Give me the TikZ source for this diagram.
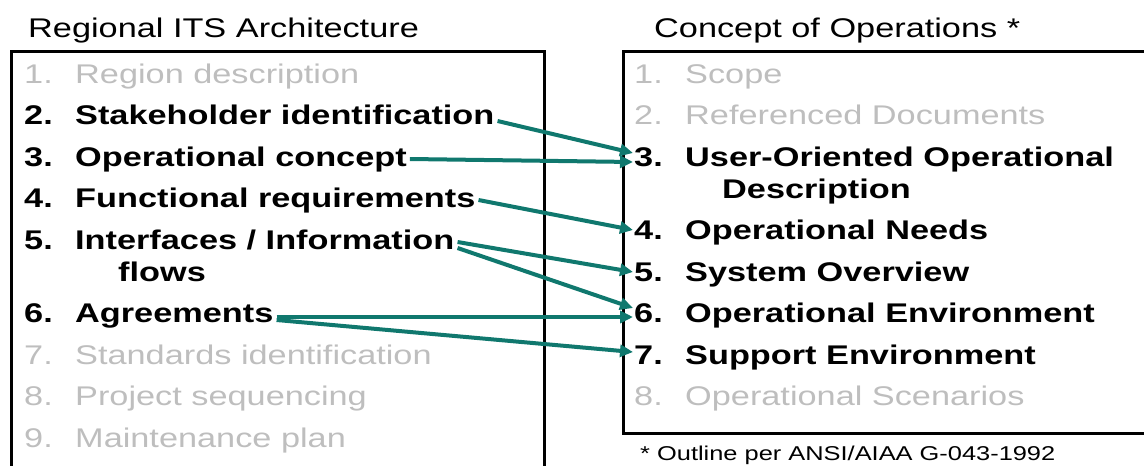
\documentclass[tikz,border=0pt]{standalone}
\usepackage{fontspec}
\setmainfont{Liberation Sans}[FakeStretch=1.27]
\usetikzlibrary{arrows.meta}
\definecolor{arrowteal}{RGB}{16,120,110}
\definecolor{dimgray}{RGB}{190,190,190}
\newcommand{\itemnum}[1]{\makebox[51pt][l]{#1}}
\tikzset{
  item/.style={anchor=base west, inner sep=0pt, font=\fontsize{27}{32}\selectfont},
  dim/.style={item, text=dimgray},
  main/.style={item, font=\fontsize{27}{32}\selectfont\bfseries, text=black},
  heading/.style={anchor=base west, inner sep=0pt, font=\fontsize{27}{32}\selectfont, text=black},
  note/.style={anchor=base west, inner sep=0pt, font=\fontsize{20}{24}\selectfont, text=black},
  frame/.style={line width=3pt, black},
  link/.style={line width=4pt, arrowteal, -{Triangle[length=13pt,width=12pt]}},
}
\begin{document}
\begin{tikzpicture}[x=1pt,y=-1pt]
\useasboundingbox (0,0) rectangle (1144,466);
% frames
\draw[frame] (11,470) -- (11,51) -- (544,51) -- (544,470);
\draw[frame] (1150,51) -- (623,51) -- (623,433) -- (1150,433);
% headings
\node[heading] (tl) at (28,37) {Regional ITS Architecture};
\node[heading] (tr) at (654,37) {Concept of Operations *};
% left list
\node[dim]  (l1)  at (24,83)    {\itemnum{1.}Region description};
\node[main] (l2)  at (24,124.5) {\itemnum{2.}Stakeholder identification};
\node[main] (l3)  at (24,166)   {\itemnum{3.}Operational concept};
\node[main] (l4)  at (24,207.5) {\itemnum{4.}Functional requirements};
\node[main] (l5)  at (24,249)   {\itemnum{5.}Interfaces / Information};
\node[main] (l5b) at (118,281)  {flows};
\node[main] (l6)  at (24,322.5) {\itemnum{6.}Agreements};
\node[dim]  (l7)  at (24,364)   {\itemnum{7.}Standards identification};
\node[dim]  (l8)  at (24,405.5) {\itemnum{8.}Project sequencing};
\node[dim]  (l9)  at (24,447)   {\itemnum{9.}Maintenance plan};
% right list
\node[dim]  (r1)  at (634,83)    {\itemnum{1.}Scope};
\node[dim]  (r2)  at (634,124.5) {\itemnum{2.}Referenced Documents};
\node[main] (r3)  at (634,166)   {\itemnum{3.}User-Oriented Operational};
\node[main] (r3b) at (722,198)   {Description};
\node[main] (r4)  at (634,239.5) {\itemnum{4.}Operational Needs};
\node[main] (r5)  at (634,281)   {\itemnum{5.}System Overview};
\node[main] (r6)  at (634,322.5) {\itemnum{6.}Operational Environment};
\node[main] (r7)  at (634,364)   {\itemnum{7.}Support Environment};
\node[dim]  (r8)  at (634,405.5) {\itemnum{8.}Operational Scenarios};
\node[note] (fn)  at (640,460)   {* Outline per ANSI/AIAA G-043-1992};
% connectors
\draw[link] ([xshift=3pt,yshift=3.5pt]l2.base east) -- ([xshift=-1pt,yshift=13pt]r3.base west);
\draw[link] ([xshift=3pt,yshift=7pt]l3.base east) -- ([xshift=-1pt,yshift=4pt]r3.base west);
\draw[link] ([xshift=3pt,yshift=7.5pt]l4.base east) -- ([xshift=-1pt,yshift=9.5pt]r4.base west);
\draw[link] ([xshift=3pt,yshift=7pt]l5.base east) -- ([xshift=-1pt,yshift=9pt]r5.base west);
\draw[link] ([xshift=3pt,yshift=1pt]l5.base east) -- ([xshift=-1pt,yshift=14.5pt]r6.base west);
\draw[link] ([xshift=3pt,yshift=5.5pt]l6.base east) -- ([xshift=-1pt,yshift=5.5pt]r6.base west);
\draw[link] ([xshift=3pt,yshift=2.5pt]l6.base east) -- ([xshift=-1pt,yshift=12pt]r7.base west);
\end{tikzpicture}
\end{document}
